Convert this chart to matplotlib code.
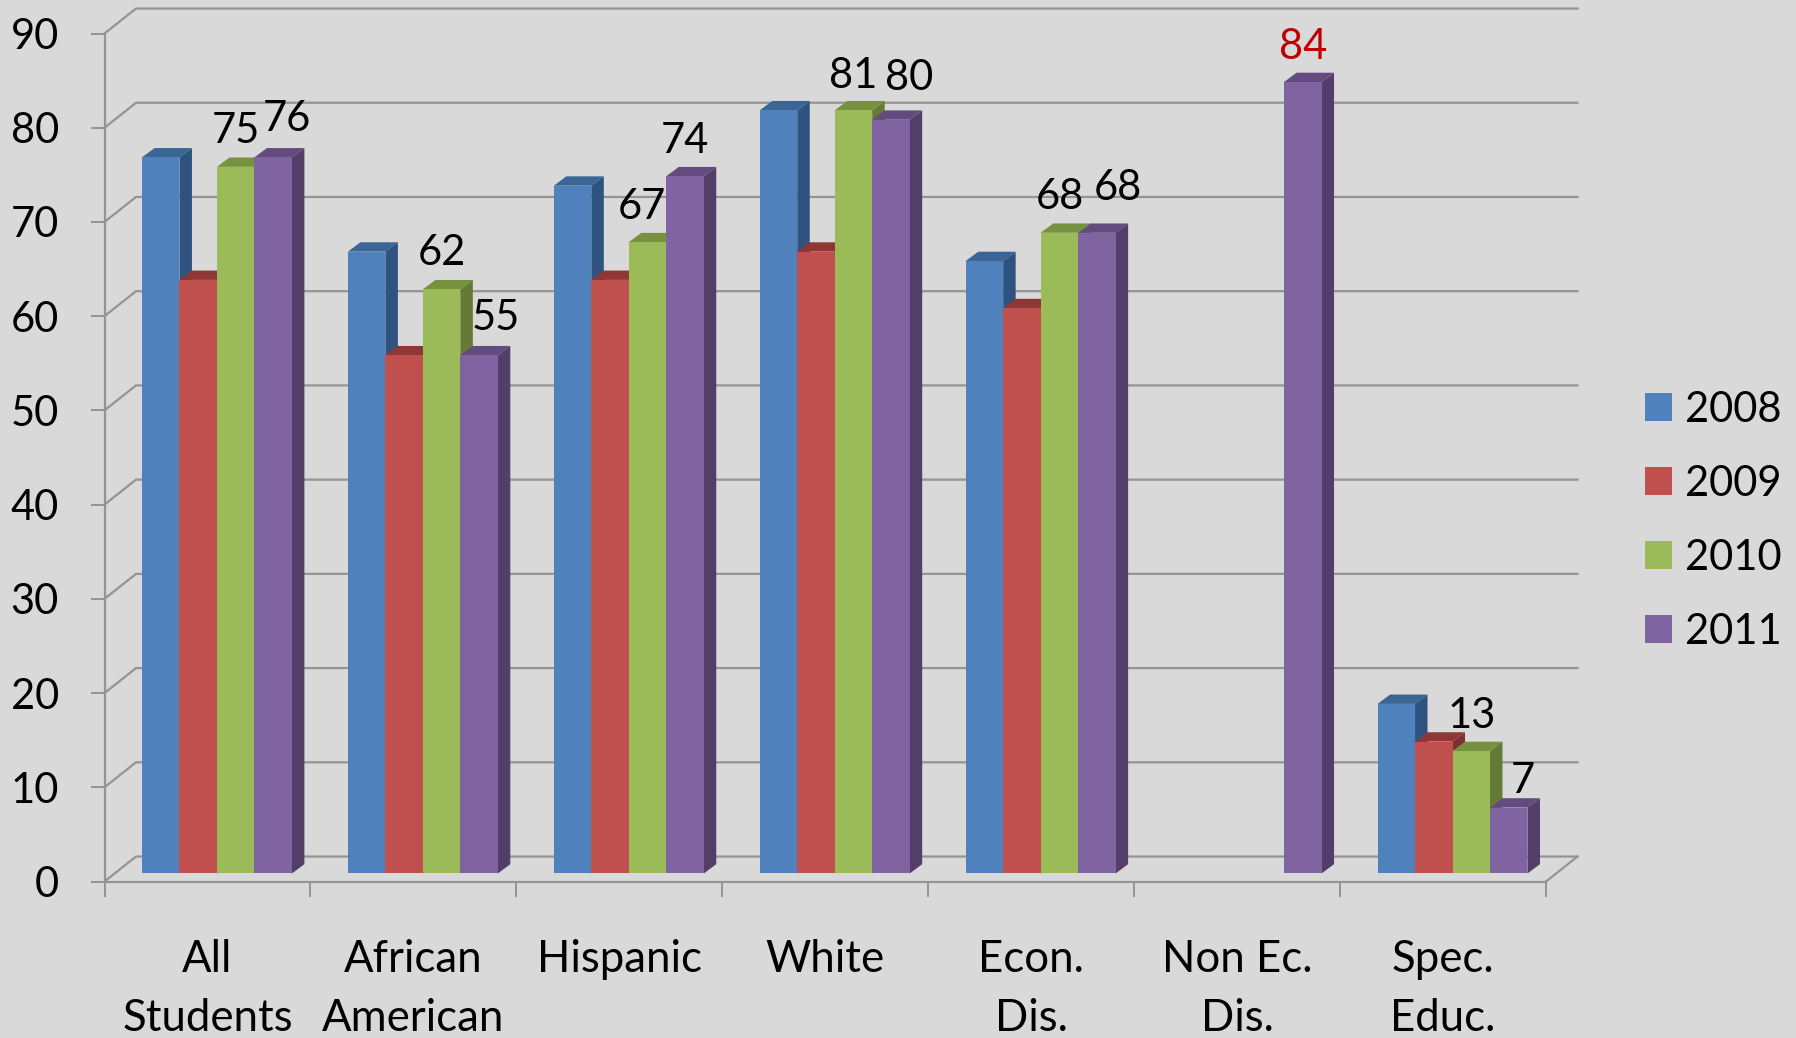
import matplotlib
matplotlib.use("Agg")
import matplotlib.pyplot as plt
from matplotlib.patches import Patch

categories = ["All\nStudents", "African\nAmerican", "Hispanic\n", "White\n",
              "Econ.\nDis.", "Non Ec.\nDis.", "Spec.\nEduc."]
years = ["2008", "2009", "2010", "2011"]
y_ticks = [0, 10, 20, 30, 40, 50, 60, 70, 80, 90]

values_2008 = [76, 66, 73, 81, 65, None, 18]
values_2009 = [63, 55, 63, 66, 60, None, 14]
values_2010 = [75, 62, 67, 81, 68, None, 13]
values_2011 = [76, 55, 74, 80, 68, 84, 7]

front_colors = ["#4f81bd", "#c0504d", "#9bbb59", "#8064a2"]
top_colors = ["#3a6595", "#8f3735", "#77923f", "#634a7f"]
side_colors = ["#2f5380", "#7f302e", "#647a36", "#533d69"]

BG = "#d9d9d9"
GRID = "#949494"
FONT = "Lato"
FONT_SIZE = 30

BAR_W = 0.182
BAR_BASE = 0.85
BAR_DX = 0.0607
BAR_DY = 0.99
WALL_DX = 0.153
WALL_DY = 2.65

# (year index, category index): label offset from the top of the bar, in points
label_offsets = {
    (2, 0): (0, 25.5), (3, 0): (10, 27.5),
    (2, 1): (0, 26.5), (3, 1): (12, 26.5),
    (2, 2): (-4, 25.5), (3, 2): (0, 25.5),
    (2, 3): (0, 25), (3, 3): (13, 30),
    (2, 4): (0, 25.5), (3, 4): (15, 32),
    (3, 5): (0, 25),
    (2, 6): (0, 25), (3, 6): (10, 19),
}


def draw_walls(ax):
    """Draws the back wall gridlines and the diagonals of the 3D box"""
    for y in y_ticks:
        ax.plot([0, WALL_DX, 7 + WALL_DX], [y, y + WALL_DY, y + WALL_DY],
                color=GRID, lw=1.6, clip_on=False, zorder=1)
    ax.plot([7, 7 + WALL_DX], [0, WALL_DY], color=GRID, lw=1.6,
            clip_on=False, zorder=1)


def draw_bar(ax, x, value, j, order):
    """Draws one bar with its top and side faces"""
    y0 = BAR_BASE
    y1 = BAR_BASE + value
    x1 = x + BAR_W
    ax.fill([x1, x1 + BAR_DX, x1 + BAR_DX, x1],
            [y0, y0 + BAR_DY, y1 + BAR_DY, y1],
            color=side_colors[j], lw=0, clip_on=False, zorder=order)
    ax.fill([x, x + BAR_DX, x1 + BAR_DX, x1],
            [y1, y1 + BAR_DY, y1 + BAR_DY, y1],
            color=top_colors[j], lw=0, clip_on=False, zorder=order)
    ax.bar(x, value, BAR_W, bottom=y0, align="edge", color=front_colors[j],
           lw=0, clip_on=False, zorder=order + 0.1)


def draw_bars(ax):
    series = [values_2008, values_2009, values_2010, values_2011]
    for i in range(len(categories)):
        for j, vals in enumerate(series):
            if vals[i] is None:
                continue
            x = i + BAR_W * (j + 1)
            draw_bar(ax, x, vals[i], j, 2 + i + j * 0.2)
            if (j, i) in label_offsets:
                color = "#c00000" if i == 5 else "black"
                ax.annotate(str(vals[i]), (x + BAR_W / 2, BAR_BASE + vals[i]),
                            xytext=label_offsets[(j, i)],
                            textcoords="offset points", ha="center",
                            va="center", fontsize=FONT_SIZE, color=color,
                            zorder=20, annotation_clip=False)


def style_axes(ax):
    ax.set_xlim(0, 7)
    ax.set_ylim(0, 90)
    ax.set_facecolor("none")
    for name in ["top", "right"]:
        ax.spines[name].set_visible(False)
    for name in ["left", "bottom"]:
        ax.spines[name].set_color(GRID)
        ax.spines[name].set_linewidth(1.6)
    ax.set_yticks(y_ticks)
    ax.tick_params(axis="y", length=10.4, width=1.4, color=GRID, pad=22.5,
                   labelsize=FONT_SIZE)
    ax.set_xticks(range(8))
    ax.set_xticklabels([])
    ax.tick_params(axis="x", which="major", length=10.8, width=1.4, color=GRID)
    ax.set_xticks([i + 0.5 for i in range(7)], minor=True)
    ax.set_xticklabels(categories, minor=True, fontsize=31.5, linespacing=1.52)
    ax.tick_params(axis="x", which="minor", length=0, pad=41.7)


def main():
    plt.rcParams["font.family"] = FONT
    fig = plt.figure(figsize=(17.96, 10.38), dpi=100, facecolor=BG)
    ax = fig.add_axes([104.5 / 1796, 1 - 881.5 / 1038, 1441.5 / 1796, 848 / 1038])
    style_axes(ax)
    draw_walls(ax)
    draw_bars(ax)

    handles = [Patch(facecolor=c, lw=0) for c in front_colors]
    fig.legend(handles, years, loc="center left",
               bbox_to_anchor=(1645 / 1796, 1 - 520.5 / 1038), frameon=False,
               fontsize=FONT_SIZE, borderpad=0, borderaxespad=0,
               handlelength=0.65, handleheight=0.65, handletextpad=0.31,
               labelspacing=0.864)

    fig.savefig("out.png", dpi=100, facecolor=BG)


if __name__ == "__main__":
    main()
